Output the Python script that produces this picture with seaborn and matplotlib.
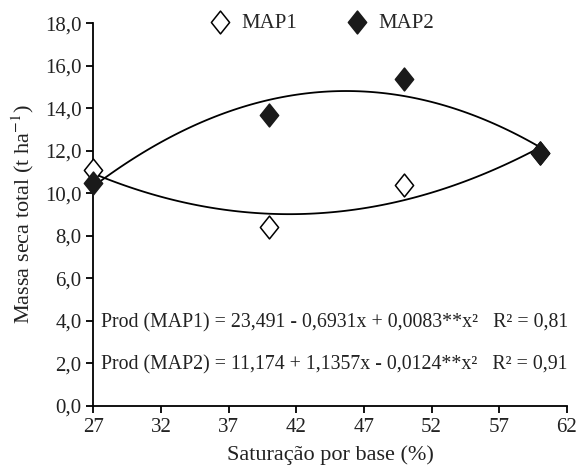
import numpy as np
import pandas as pd
import matplotlib.pyplot as plt
import seaborn as sns
from matplotlib.path import Path
from matplotlib.ticker import FuncFormatter

sns.set_style("ticks")
plt.rcParams["font.family"] = ["Liberation Serif", "DejaVu Serif"]
plt.rcParams["mathtext.fontset"] = "stix"

saturacao = [27, 40, 50, 60]
map1 = [11.1, 8.4, 10.4, 11.9]
map2 = [10.5, 13.7, 15.35, 11.9]
eq1 = "Prod (MAP1) = 23,491 - 0,6931x + 0,0083**x\u00b2   R\u00b2 = 0,81"
eq2 = "Prod (MAP2) = 11,174 + 1,1357x - 0,0124**x\u00b2   R\u00b2 = 0,91"

df = pd.DataFrame({"sat": saturacao, "MAP1": map1, "MAP2": map2})

# diamond a bit narrower than tall
diamond = Path([(0, 1), (0.8, 0), (0, -1), (-0.8, 0), (0, 1)],
               [Path.MOVETO, Path.LINETO, Path.LINETO, Path.LINETO, Path.CLOSEPOLY])

fig = plt.figure(figsize=(5.79, 4.72), dpi=100)
ax = fig.add_axes([0.161, 0.14, 0.818, 0.811])

sns.regplot(data=df, x="sat", y="MAP1", order=2, ci=None, scatter=False,
            line_kws={"color": "black", "lw": 1.3}, ax=ax)
sns.regplot(data=df, x="sat", y="MAP2", order=2, ci=None, scatter=False,
            line_kws={"color": "black", "lw": 1.3}, ax=ax)
sns.scatterplot(data=df, x="sat", y="MAP1", marker=diamond, s=270, color="white",
                edgecolor="black", linewidth=1.1, label="MAP1", ax=ax, zorder=3,
                clip_on=False)
sns.scatterplot(data=df, x="sat", y="MAP2", marker=diamond, s=270, color="#1a1a1a",
                edgecolor="#1a1a1a", linewidth=1.1, label="MAP2", ax=ax, zorder=4,
                clip_on=False)

ax.set_xlim(27, 62)
ax.set_ylim(0, 18)
ax.set_xticks(range(27, 63, 5))
ax.set_yticks(np.arange(0, 18.1, 2))
ax.yaxis.set_major_formatter(FuncFormatter(lambda v, p: f"{v:.1f}".replace(".", ",")))
ax.tick_params(labelsize=15, length=5, width=1.3, color="black", labelcolor="#222222")
for s in ["left", "bottom"]:
    ax.spines[s].set_linewidth(1.3)
    ax.spines[s].set_color("black")
sns.despine(ax=ax)

ax.set_xlabel("Saturação por base (%)", fontsize=16, color="#222222", labelpad=6)
ax.set_ylabel("Massa seca total (t ha$^{-1}$)", fontsize=16, color="#222222", labelpad=6)

ax.text(27.6, 3.9, eq1, fontsize=14.3, color="#222222", va="center")
ax.text(27.6, 1.95, eq2, fontsize=14.3, color="#222222", va="center")

ax.legend(loc="center", bbox_to_anchor=(0.481, 1.0), ncol=2, frameon=False,
          fontsize=15, columnspacing=2.3, handlelength=1.2, handletextpad=0.4)

fig.savefig("out.png", dpi=100, facecolor="white")
